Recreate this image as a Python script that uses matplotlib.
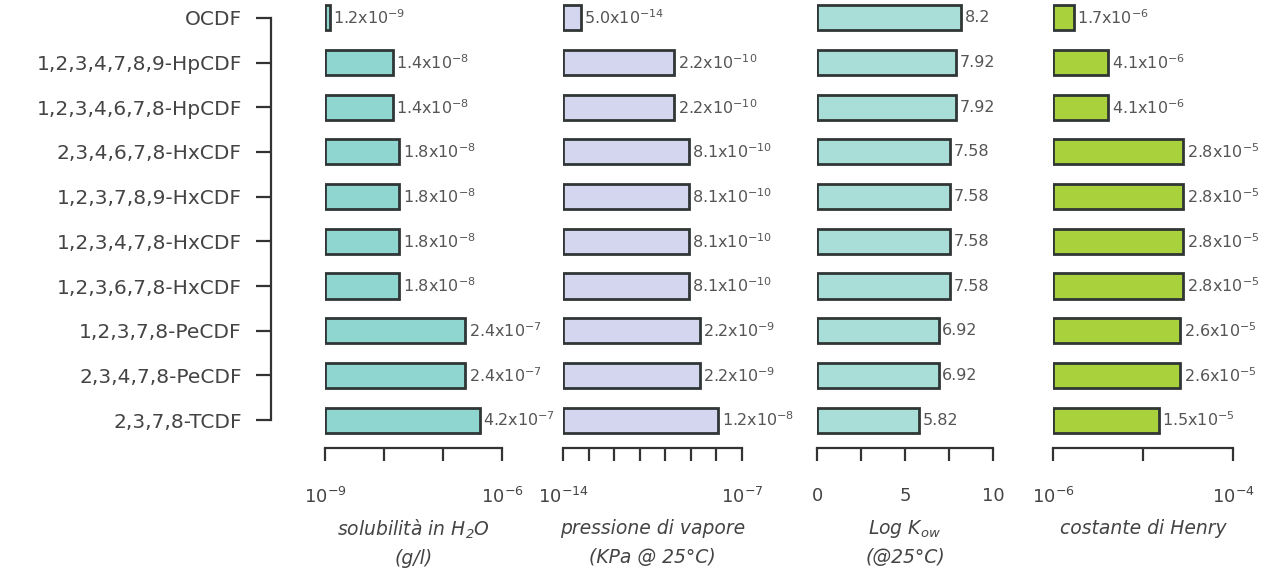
import matplotlib
matplotlib.use("Agg")
import matplotlib.pyplot as plt
import numpy as np

plt.rcParams['font.family'] = ['DejaVu Sans']
plt.rcParams['mathtext.default'] = 'regular'

# ---------------- data ----------------
compounds = ["OCDF", "1,2,3,4,7,8,9-HpCDF", "1,2,3,4,6,7,8-HpCDF", "2,3,4,6,7,8-HxCDF",
             "1,2,3,7,8,9-HxCDF", "1,2,3,4,7,8-HxCDF", "1,2,3,6,7,8-HxCDF",
             "1,2,3,7,8-PeCDF", "2,3,4,7,8-PeCDF", "2,3,7,8-TCDF"]

solub_mant = [1.2, 1.4, 1.4, 1.8, 1.8, 1.8, 1.8, 2.4, 2.4, 4.2]
solub_exp = [-9, -8, -8, -8, -8, -8, -8, -7, -7, -7]

vap_mant = [5.0, 2.2, 2.2, 8.1, 8.1, 8.1, 8.1, 2.2, 2.2, 1.2]
vap_exp = [-14, -10, -10, -10, -10, -10, -10, -9, -9, -8]

logkow = [8.2, 7.92, 7.92, 7.58, 7.58, 7.58, 7.58, 6.92, 6.92, 5.82]

henry_mant = [1.7, 4.1, 4.1, 2.8, 2.8, 2.8, 2.8, 2.6, 2.6, 1.5]
henry_exp = [-6, -6, -6, -5, -5, -5, -5, -5, -5, -5]

solub_ticks = [1e-9, 1e-8, 1e-7, 1e-6]
solub_ticklabels = ["10$^{-9}$", "", "", "10$^{-6}$"]
vap_ticks = [1e-14, 1e-13, 1e-12, 1e-11, 1e-10, 1e-9, 1e-8, 1e-7]
vap_ticklabels = ["10$^{-14}$", "", "", "", "", "", "", "10$^{-7}$"]
kow_ticks = [0, 2.5, 5, 7.5, 10]
kow_ticklabels = ["0", "", "5", "", "10"]
henry_ticks = [1e-6, 1e-5, 1e-4]
henry_ticklabels = ["10$^{-6}$", "", "10$^{-4}$"]

titles = [("solubilità in H$_2$O", "(g/l)"),
          ("pressione di vapore", "(KPa @ 25°C)"),
          ("Log K$_{ow}$", "(@25°C)"),
          ("costante di Henry", "")]

# ---------------- figure ----------------
W, H = 1265, 574
fig = plt.figure(figsize=(W / 100, H / 100), dpi=100)

panel_px = [(325, 177), (563, 179), (817, 176), (1053, 180)]
bottom_px = 448
edge = "#303535"
fills = ["#8fd6d0", "#d4d6f0", "#a9ddd7", "#a9d13c"]
textc = "#555555"
darkc = "#444444"

n = len(compounds)
ypos = np.arange(n)[::-1]  # OCDF on top


def fmt(m, e):
    return f"{m:.1f}x10$^{{{e}}}$"


vals = [
    [m * 10.0 ** e for m, e in zip(solub_mant, solub_exp)],
    [m * 10.0 ** e for m, e in zip(vap_mant, vap_exp)],
    logkow,
    [m * 10.0 ** e for m, e in zip(henry_mant, henry_exp)],
]
labels = [
    [fmt(m, e) for m, e in zip(solub_mant, solub_exp)],
    [fmt(m, e) for m, e in zip(vap_mant, vap_exp)],
    [f"{v:g}" for v in logkow],
    [fmt(m, e) for m, e in zip(henry_mant, henry_exp)],
]
ticks = [solub_ticks, vap_ticks, kow_ticks, henry_ticks]
ticklabels = [solub_ticklabels, vap_ticklabels, kow_ticklabels, henry_ticklabels]
logs = [True, True, False, True]

for i, (x0, w) in enumerate(panel_px):
    ax = fig.add_axes([x0 / W, (H - bottom_px) / H, w / W, bottom_px / H])
    if logs[i]:
        ax.set_xscale('log')
    ax.set_xlim(ticks[i][0], ticks[i][-1])
    ax.set_ylim(-0.625, 9.4)
    base = ticks[i][0]
    v = np.array(vals[i])
    ax.barh(ypos, v - base, left=base, height=0.56, color=fills[i],
            edgecolor=edge, linewidth=2.0, zorder=3)
    for y, val, lab in zip(ypos, v, labels[i]):
        ax.annotate(lab, (val, y), xytext=(2.5, 0), textcoords='offset points',
                    va='center', ha='left', fontsize=11.5, color=textc,
                    annotation_clip=False)
    for s in ['top', 'right', 'left']:
        ax.spines[s].set_visible(False)
    ax.spines['bottom'].set_color('#333333')
    ax.spines['bottom'].set_linewidth(1.6)
    ax.xaxis.set_major_locator(matplotlib.ticker.FixedLocator(ticks[i]))
    ax.xaxis.set_minor_locator(matplotlib.ticker.NullLocator())
    ax.set_xticklabels(ticklabels[i])
    ax.tick_params(axis='x', direction='out', length=9, width=1.6, color='#333333',
                   pad=19, labelsize=13, labelcolor=darkc)
    if i == 0:
        ax.spines['left'].set_visible(True)
        ax.spines['left'].set_position(('outward', 54 * 0.72))
        ax.spines['left'].set_bounds(0, n - 1)
        ax.spines['left'].set_color('#333333')
        ax.spines['left'].set_linewidth(1.6)
        ax.set_yticks(ypos)
        ax.set_yticklabels(compounds)
        ax.tick_params(axis='y', direction='out', length=11, width=1.6, color='#333333',
                       pad=10, labelsize=14.5, labelcolor=darkc)
    else:
        ax.set_yticks([])
    cx = (x0 + w / 2) / W
    t1, t2 = titles[i]
    fig.text(cx, (H - 529) / H, t1, ha='center', va='center', fontsize=13.5,
             style='italic', color=darkc)
    if t2:
        fig.text(cx, (H - 558) / H, t2, ha='center', va='center', fontsize=13.5,
                 style='italic', color=darkc)

fig.savefig("out.png", dpi=100, facecolor='white')
